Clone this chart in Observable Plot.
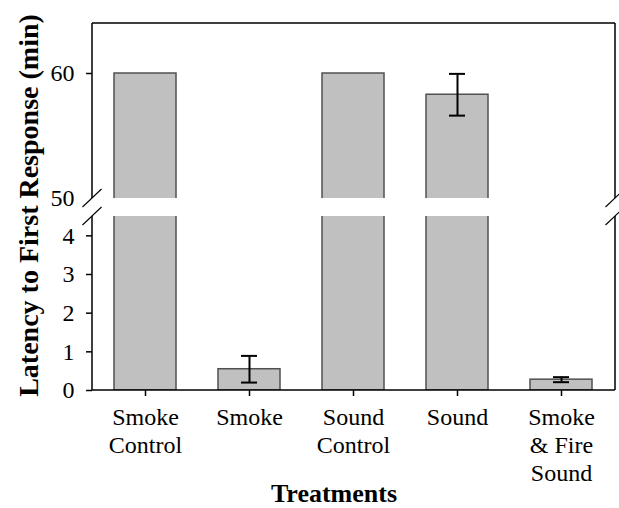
<!DOCTYPE html>
<html><head><meta charset="utf-8">
<script src="https://cdn.jsdelivr.net/npm/d3@7"></script>
<script src="https://cdn.jsdelivr.net/npm/@observablehq/plot@0.6"></script>
<style>
body{margin:0;background:#fff;}
#chart{position:relative;width:619px;height:508px;overflow:hidden;}
#chart svg{position:absolute;left:0;top:0;}
#chart svg text{font-family:'Liberation Serif','Times New Roman',serif;}
</style></head><body><div id="chart"></div>
<script>
// ---- data ----
const treatments = ["Smoke Control", "Smoke", "Sound Control", "Sound", "Smoke & Fire Sound"];
const tickLabels = ["Smoke\nControl", "Smoke", "Sound\nControl", "Sound", "Smoke\n& Fire\nSound"];
const latency = [60, 0.55, 60, 58.3, 0.28];
const errors = [0, 0.345, 0, 1.67, 0.065];
const upperTicks = [60];
const upperUntickedLabels = [50];
const lowerTicks = [0, 1, 2, 3, 4];
const upperDomain = [50, 64];
const lowerDomain = [0, 4.5];
const xTitle = "Treatments";
const yTitle = "Latency to First Response (min)";

const rows = treatments.map((t, i) => ({t, v: latency[i], lo: latency[i] - errors[i], hi: latency[i] + errors[i], e: errors[i]}));
const errRows = rows.filter(d => d.e > 0);

const W = 619, H = 508;
const font = "'Liberation Serif', 'Times New Roman', serif";
const style = {fontFamily: font, fontSize: "24px", background: "transparent", color: "black", overflow: "visible"};
const xScale = {domain: treatments, paddingInner: 0.4, paddingOuter: 0.2};
const fmt = d => String(d);

// frame sides + axis-break slashes, derived from the plot dimensions
function panelFrame(sides, breakAt) {
  return (...args) => {
    const dims = args.find(a => a && typeof a === "object" && a.marginLeft !== undefined && a.width !== undefined);
    const L = dims.marginLeft, R = dims.width - dims.marginRight, T = dims.marginTop, B = dims.height - dims.marginBottom;
    const g = d3.create("svg:g").attr("stroke", "black").attr("fill", "none");
    const seg = (x1, y1, x2, y2, w) => g.append("line").attr("x1", x1).attr("y1", y1).attr("x2", x2).attr("y2", y2).attr("stroke-width", w);
    if (sides.includes("top")) seg(L, T, R, T, 1.5);
    if (sides.includes("bottom")) seg(L, B, R, B, 1.5);
    if (sides.includes("left")) seg(L, T, L, B, 1.5);
    if (sides.includes("right")) seg(R, T, R, B, 1.5);
    const yb = breakAt === "bottom" ? B : T;
    for (const x of [L, R]) seg(x - 9.5, yb + 9, x + 9.5, yb - 9, 1.1);
    return g.node();
  };
}

const barOpts = {x: "t", y: "v", fill: "#c0c0c0", stroke: "#505050", strokeWidth: 1.5, clip: true};
const errMarks = [
  Plot.ruleX(errRows, {x: "t", y1: "lo", y2: "hi", stroke: "black", strokeWidth: 2, clip: true}),
  Plot.tickY(errRows, {x: "t", y: "lo", stroke: "black", strokeWidth: 2, insetLeft: 23, insetRight: 23, clip: true}),
  Plot.tickY(errRows, {x: "t", y: "hi", stroke: "black", strokeWidth: 2, insetLeft: 23, insetRight: 23, clip: true})
];
const axisText = {fontSize: 24, fontFamily: font, fontVariant: "normal"};

const upper = Plot.plot({
  width: W, height: H,
  marginTop: 23, marginBottom: H - 198, marginLeft: 92, marginRight: 4,
  style,
  x: {...xScale, axis: null},
  y: {domain: upperDomain, axis: null},
  marks: [
    Plot.barY(rows, barOpts),
    ...errMarks,
    Plot.axisY({ticks: upperTicks, tickFormat: fmt, tickSize: 6, tickPadding: 12, strokeWidth: 1.5, label: null, ...axisText}),
    Plot.axisY({ticks: upperUntickedLabels, tickFormat: fmt, tickSize: 0, tickPadding: 18, label: null, ...axisText}),
    panelFrame(["top", "left", "right"], "bottom")
  ]
});

const lower = Plot.plot({
  width: W, height: H,
  marginTop: 216, marginBottom: H - 390, marginLeft: 92, marginRight: 4,
  style,
  x: {...xScale, axis: null},
  y: {domain: lowerDomain, axis: null},
  marks: [
    Plot.barY(rows, barOpts),
    ...errMarks,
    Plot.axisY({ticks: lowerTicks, tickFormat: fmt, tickSize: 6, tickPadding: 12, strokeWidth: 1.5, label: null, ...axisText}),
    Plot.axisX({tickSize: 6, tickPadding: 9, lineHeight: 1.16, strokeWidth: 1.5, label: null, ...axisText,
      tickFormat: d => tickLabels[treatments.indexOf(d)]}),
    panelFrame(["bottom", "left", "right"], "top"),
    Plot.text([xTitle], {frameAnchor: "bottom", dy: 103, dx: -20, lineAnchor: "middle", textAnchor: "middle",
      fontWeight: "bold", fontSize: 26, fontFamily: font, fill: "black"}),
    Plot.text([yTitle], {frameAnchor: "left", rotate: -90, dx: -63, dy: -98, lineAnchor: "middle", textAnchor: "middle",
      fontWeight: "bold", fontSize: 28, fontFamily: font, fill: "black"})
  ]
});

const chart = document.getElementById("chart");
chart.append(upper, lower);
</script>
</body></html>
